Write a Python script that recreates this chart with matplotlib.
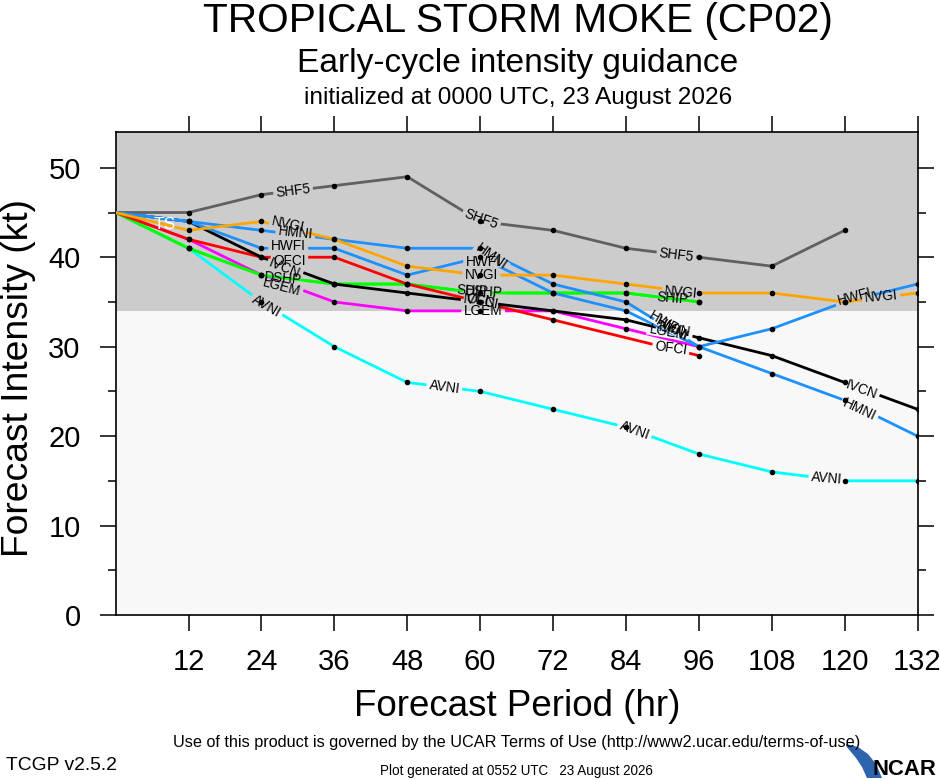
import numpy as np
import matplotlib
matplotlib.use("Agg")
import matplotlib.pyplot as plt
from matplotlib import font_manager
from matplotlib.path import Path
from matplotlib.transforms import IdentityTransform
from matplotlib.patches import Polygon

# ---------------- data ----------------
hours = [0, 12, 24, 36, 48, 60, 72, 84, 96, 108, 120, 132]
shf5 = [45, 45, 47, 48, 49, 44, 43, 41, 40, 39, 43]
nvgi = [45, 43, 44, 42, 39, 38, 38, 37, 36, 36, 35, 36]
hmni = [45, 44, 43, 42, 41, 41, 37, 35, 30, 27, 24, 20]
hwfi = [45, 44, 41, 41, 38, 40, 36, 34, 30, 32, 35, 37]
ofci_hours = [0, 12, 24, 36, 48, 60, 72, 96]
ofci = [45, 42, 40, 40, 37, 35, 33, 29]
ivcn = [45, 44, 40, 37, 36, 35, 34, 33, 31, 29, 26, 23]
ship = [45, 41, 38, 37, 37, 36, 36, 36, 35]
dshp = [45, 41, 38, 37, 37, 36, 36, 36, 35]
lgem = [45, 42, 38, 35, 34, 34, 34, 32, 30]
avni = [45, 41, 35, 30, 26, 25, 23, 21, 18, 16, 15, 15]

ts_threshold = 34
xticks = [12, 24, 36, 48, 60, 72, 84, 96, 108, 120, 132]
yticks = [0, 10, 20, 30, 40, 50]
yminor = [5, 15, 25, 35, 45]

series = [
    ("SHF5", hours[:len(shf5)], shf5, "#606060"),
    ("AVNI", hours[:len(avni)], avni, "#00FFFF"),
    ("LGEM", hours[:len(lgem)], lgem, "#FF00FF"),
    ("DSHP", hours[:len(dshp)], dshp, "#00FF00"),
    ("SHIP", hours[:len(ship)], ship, "#00FF00"),
    ("OFCI", ofci_hours, ofci, "#FF0000"),
    ("IVCN", hours[:len(ivcn)], ivcn, "#000000"),
    ("HWFI", hours[:len(hwfi)], hwfi, "#1E90FF"),
    ("HMNI", hours[:len(hmni)], hmni, "#1E90FF"),
    ("NVGI", hours[:len(nvgi)], nvgi, "#FFA500"),
]

# line labels: (series, hour, value, rotation)
labels = [
    ("SHF5", 29.2, 47.4, 7), ("SHF5", 60.2, 44.3, -20), ("SHF5", 92.3, 40.2, -7),
    ("NVGI", 28.4, 43.7, -12), ("HMNI", 29.6, 42.7, -6), ("HWFI", 28.4, 41.3, 0),
    ("OFCI", 28.6, 39.6, 0), ("IVCN", 27.8, 38.7, -22), ("DSHP", 27.6, 37.6, -5),
    ("LGEM", 27.3, 36.6, -15), ("AVNI", 24.8, 34.5, -30),
    ("HMNI", 61.8, 40.0, -35), ("HWFI", 60.5, 39.5, 0), ("NVGI", 60.2, 38.0, 0),
    ("SHIP", 58.8, 36.25, -3), ("DSHP", 60.7, 36.1, -3), ("IVCN", 59.9, 35.2, -5),
    ("OFCI", 60.3, 35.0, -12), ("LGEM", 60.5, 34.0, 0),
    ("AVNI", 54.1, 25.45, -8), ("AVNI", 85.4, 20.6, -20), ("AVNI", 117.0, 15.3, -5),
    ("NVGI", 93.1, 36.1, -5), ("SHIP", 91.7, 35.4, -5),
    ("HWFI", 90.5, 32.6, -30), ("HMNI", 91.5, 32.0, -30), ("IVCN", 92.0, 31.9, -10),
    ("LGEM", 91.0, 31.6, -10), ("OFCI", 91.4, 29.8, -8),
    ("HWFI", 121.6, 35.6, 15), ("NVGI", 126.0, 35.6, 5),
    ("IVCN", 122.8, 25.2, -20), ("HMNI", 122.4, 22.9, -25),
]

# ---------------- fonts ----------------
names = {f.name for f in font_manager.fontManager.ttflist}
FONT = "Liberation Sans" if "Liberation Sans" in names else "DejaVu Sans"
NARROW = "Liberation Sans Narrow" if "Liberation Sans Narrow" in names else FONT
plt.rcParams["font.family"] = [FONT, "DejaVu Sans"]

W, H = 940, 780
fig = plt.figure(figsize=(W / 100, H / 100), dpi=100, facecolor="white")
L, R, T, B = 115.7, 917.5, 132.0, 615.0
ax = fig.add_axes([L / W, 1 - B / H, (R - L) / W, (B - T) / H])
ax.set_xlim(0, 132)
ax.set_ylim(0, 54)
ax.set_facecolor("#f8f8f8")
ax.axhspan(ts_threshold, 54, color="#cccccc", zorder=0.5, lw=0)

for s in ax.spines.values():
    s.set_linewidth(1.2)
ax.set_xticks(xticks)
ax.set_xticklabels([str(t) for t in xticks])
ax.set_yticks(yticks)
ax.set_yticklabels([str(t) for t in yticks])
ax.set_yticks(yminor, minor=True)
ax.tick_params(axis="both", which="major", direction="out", length=11.5, width=1.1,
               labelsize=21, top=True, right=True)
ax.tick_params(axis="x", which="major", pad=12.2)
ax.tick_params(axis="y", which="major", pad=13.7)
ax.tick_params(axis="y", which="minor", direction="out", length=5.8, width=1.1, right=True)

renderer = fig.canvas.get_renderer()

# labels and gap rectangles
holes = {}
for name, h, v, rot in labels:
    t = ax.text(h, v, name, fontsize=9.8, ha="center", va="center",
                rotation=0, rotation_mode="anchor", zorder=20, color="black")
    bb = t.get_window_extent(renderer)
    t.set_rotation(rot)
    cx, cy = ax.transData.transform((h, v))
    hw, hh = bb.width / 2 + 2.5, bb.height * 0.42
    c = np.array([[-hw, -hh], [hw, -hh], [hw, hh], [-hw, hh]])
    th = np.deg2rad(rot)
    rm = np.array([[np.cos(th), -np.sin(th)], [np.sin(th), np.cos(th)]])
    pts = c @ rm.T + np.array([cx, cy])
    holes.setdefault(name, []).append(pts[::-1])

Wd, Hd = fig.bbox.width, fig.bbox.height
for i, (name, xs, ys, col) in enumerate(series):
    z = 3 + i * 0.1
    (ln,) = ax.plot(xs, ys, color=col, lw=2.0, solid_capstyle="butt", zorder=z)
    verts = [(0, 0), (Wd, 0), (Wd, Hd), (0, Hd), (0, 0)]
    codes = [Path.MOVETO, Path.LINETO, Path.LINETO, Path.LINETO, Path.CLOSEPOLY]
    for p in holes.get(name, []):
        verts += [tuple(q) for q in p] + [tuple(p[0])]
        codes += [Path.MOVETO, Path.LINETO, Path.LINETO, Path.LINETO, Path.CLOSEPOLY]
    ln.set_clip_path(Path(verts, codes), IdentityTransform())
    ax.plot(xs[1:], ys[1:], ls="none", marker="o", ms=3.0, color="black", zorder=10)

ax.text(8.1, 43.7, "TS", color="white", fontsize=12.5, ha="center", va="center", zorder=20)


def fit(txt, x, y, target, size, rot=0, **kw):
    t = fig.text(x / W, 1 - y / H, txt, fontsize=size, **kw)
    bb = t.get_window_extent(renderer)
    t.set_fontsize(size * target / bb.width)
    t.set_rotation(rot)
    return t


XC = 518
fit("TROPICAL STORM MOKE (CP02)", XC, 31.7, 628, 29, ha="center", va="baseline")
fit("Early-cycle intensity guidance", XC, 71.7, 442, 24, ha="center", va="baseline")
fit("initialized at 0000 UTC, 23 August 2026", XC, 104, 428, 17.6, ha="center", va="baseline")
fit("Forecast Period (hr)", 517, 716, 326, 26.5, ha="center", va="baseline")
fit("Forecast Intensity (kt)", 19, 378.5, 357, 26.5, rot=90, ha="center", va="center")
fit("Use of this product is governed by the UCAR Terms of Use (http://www2.ucar.edu/terms-of-use)",
    517, 746.5, 686, 11, ha="center", va="baseline")
fit("TCGP v2.5.2", 6, 770, 111, 14, ha="left", va="baseline")
fit("Plot generated at 0552 UTC   23 August 2026", 516, 775, 274, 9.5, ha="center", va="baseline")
fit("NCAR", 872, 775, 64, 17, ha="left", va="baseline", family=[NARROW, FONT], weight="bold")

# NCAR swoosh (decoration)
outer = [(846, 744), (858, 747), (868, 754), (876, 764), (882, 778)]
inner = [(867, 778), (862, 767), (856, 758), (846, 746)]
sw = np.array(outer + inner, dtype=float)
fig.patches.append(Polygon(np.column_stack([sw[:, 0] / W, 1 - sw[:, 1] / H]),
                           closed=True, transform=fig.transFigure,
                           facecolor="#2e63ad", edgecolor="none"))

fig.savefig("out.png", dpi=100, facecolor="white")
